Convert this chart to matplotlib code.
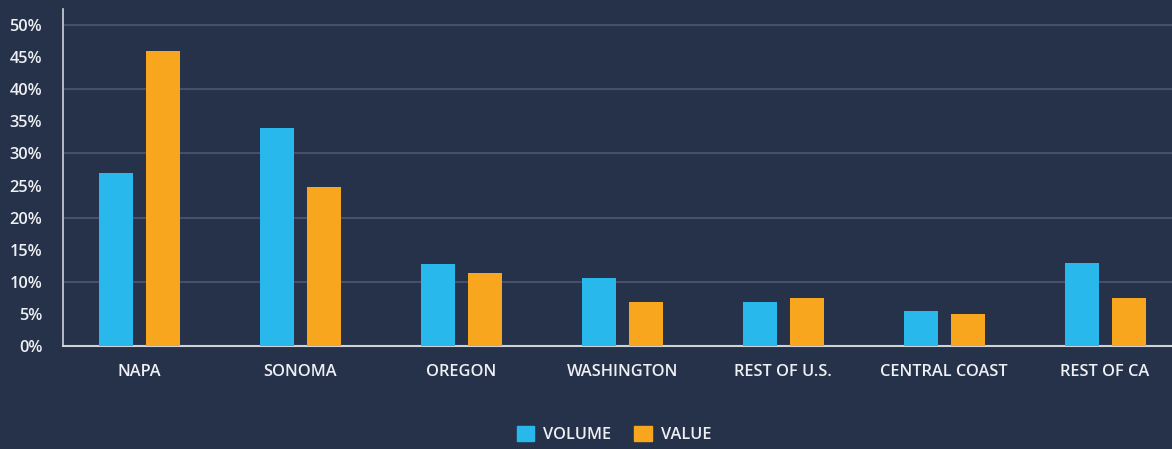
import numpy as np
import matplotlib.pyplot as plt
from matplotlib.patches import Patch

regions = ['NAPA', 'SONOMA', 'OREGON', 'WASHINGTON', 'REST OF U.S.', 'CENTRAL COAST', 'REST OF CA']
volume = [27.0, 33.9, 12.7, 10.6, 6.8, 5.4, 12.9]
value = [46.0, 24.8, 11.3, 6.8, 7.5, 5.0, 7.5]

bg = '#263249'
blue = '#29b8eb'
orange = '#f8a61d'
txt = '#eef0f4'

plt.rcParams['font.family'] = ['Open Sans', 'DejaVu Sans']

fig = plt.figure(figsize=(11.72, 4.49), dpi=100, facecolor=bg)
ax = fig.add_axes([63 / 1172, 103 / 449, 1 - 63 / 1172, 337 / 449], facecolor=bg)

x = np.arange(len(regions))
w = 0.211
off = 0.146
ax.bar(x - off, volume, w, color=blue, zorder=3)
ax.bar(x + off, value, w, color=orange, zorder=3)

ax.set_xlim(-0.475, 6.416)
ax.set_ylim(0, 52.5)
ax.set_yticks(np.arange(0, 51, 5))
ax.set_yticklabels([f'{v}%' for v in range(0, 51, 5)])
for g in range(10, 51, 10):
    ax.axhline(g, color='#4a4d6c', lw=1.5, zorder=1)

ax.set_xticks(x)
ax.set_xticklabels(regions)
ax.tick_params(axis='both', length=0, colors=txt, labelsize=11.8)
ax.tick_params(axis='x', pad=13)
ax.tick_params(axis='y', pad=15)
for lab in ax.get_xticklabels() + ax.get_yticklabels():
    lab.set_fontweight('semibold')

for s in ['top', 'right']:
    ax.spines[s].set_visible(False)
ax.spines['left'].set_color('#d0d2da')
ax.spines['bottom'].set_color('#d0d2da')
ax.spines['left'].set_linewidth(1.2)
ax.spines['bottom'].set_linewidth(1.5)

handles = [Patch(color=blue, label='VOLUME'), Patch(color=orange, label='VALUE')]
leg = fig.legend(handles=handles, loc='lower center', bbox_to_anchor=(0.524, -0.02), ncol=2,
                 frameon=False, fontsize=11.8, handlelength=1.05, handleheight=1.05,
                 handletextpad=0.55, columnspacing=1.4)
for t in leg.get_texts():
    t.set_color(txt)
    t.set_fontweight('semibold')

fig.savefig('out.png', dpi=100, facecolor=bg)
